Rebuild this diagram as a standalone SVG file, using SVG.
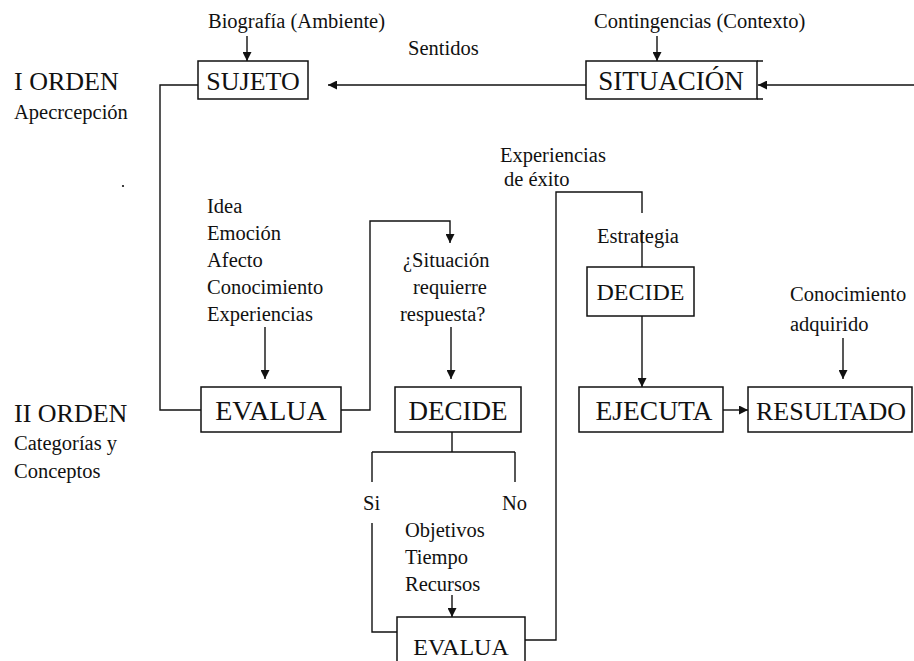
<svg xmlns="http://www.w3.org/2000/svg" width="914" height="661" viewBox="0 0 914 661">
<defs>
<marker id="ah" viewBox="0 0 10 10" refX="10" refY="5" markerWidth="9" markerHeight="9" markerUnits="userSpaceOnUse" orient="auto">
<path d="M0,0 L10,5 L0,10 z" fill="#111"/>
</marker>
<style>
.box{fill:#fff;stroke:#111;stroke-width:1.5}
.bt{font-family:"Liberation Serif","Times New Roman",serif;font-size:26px;fill:#111;text-anchor:middle}
.lb{font-family:"Liberation Serif","Times New Roman",serif;font-size:20.5px;fill:#111}
.big{font-family:"Liberation Serif","Times New Roman",serif;font-size:26px;fill:#111}
.ln{fill:none;stroke:#111;stroke-width:1.4}
.ar{fill:none;stroke:#111;stroke-width:1.4;marker-end:url(#ah)}
</style>
</defs>
<rect width="914" height="661" fill="#fff"/>

<g id="labels">
<text class="big" x="14" y="90">I ORDEN</text>
<text class="lb" x="14" y="119">Apecrcepción</text>
<text class="big" x="14" y="422">II ORDEN</text>
<text class="lb" x="14" y="450">Categorías y</text>
<text class="lb" x="14" y="478">Conceptos</text>
<circle cx="123" cy="186" r="1.1" fill="#111"/>
<text class="lb" x="208" y="28">Biografía (Ambiente)</text>
<text class="lb" x="594" y="28">Contingencias (Contexto)</text>
<text class="lb" x="408" y="55">Sentidos</text>
<text class="lb" x="207" y="213">Idea</text>
<text class="lb" x="207" y="240">Emoción</text>
<text class="lb" x="207" y="267">Afecto</text>
<text class="lb" x="207" y="294">Conocimiento</text>
<text class="lb" x="207" y="321">Experiencias</text>
<text class="lb" x="403" y="267">¿Situación</text>
<text class="lb" x="413" y="294">requierre</text>
<text class="lb" x="400" y="321">respuesta?</text>
<text class="lb" x="500" y="162">Experiencias</text>
<text class="lb" x="504" y="186">de éxito</text>
<text class="lb" x="597" y="243">Estrategia</text>
<text class="lb" x="790" y="301">Conocimiento</text>
<text class="lb" x="790" y="331">adquirido</text>
<text class="lb" x="363" y="510">Si</text>
<text class="lb" x="502" y="510">No</text>
<text class="lb" x="405" y="537">Objetivos</text>
<text class="lb" x="405" y="564">Tiempo</text>
<text class="lb" x="405" y="591">Recursos</text>
</g>

<g id="connectors">
<line class="ar" x1="247" y1="36" x2="247" y2="61"/>
<line class="ar" x1="657" y1="36" x2="657" y2="61"/>
<line class="ar" x1="586" y1="85" x2="328" y2="85"/>
<line class="ar" x1="914" y1="85" x2="758" y2="85"/>
<path class="ln" d="M198,85 H160 V410 H201"/>
<line class="ar" x1="265" y1="327" x2="265" y2="379"/>
<path class="ar" d="M340,410 H370 V221 H450 V243"/>
<line class="ar" x1="451" y1="327" x2="451" y2="379"/>
<path class="ln" d="M452,432 V452 M372,452 H515 M372,452 V482 M515,452 V482"/>
<path class="ln" d="M372,523 V632 H397"/>
<line class="ar" x1="452" y1="595" x2="452" y2="617"/>
<path class="ln" d="M525,640 H556 V192 H642 V213"/>
<line class="ln" x1="642" y1="230" x2="642" y2="267"/>
<line class="ar" x1="642" y1="316" x2="642" y2="387"/>
<line class="ar" x1="723" y1="410" x2="748" y2="410"/>
<line class="ar" x1="843" y1="338" x2="843" y2="379"/>
</g>

<g id="sujeto">
<rect class="box" x="198" y="61" width="110" height="38"/>
<text class="bt" x="253" y="90">SUJETO</text>
</g>
<g id="situacion">
<rect class="box" x="586" y="61" width="171" height="38"/>
<path class="ln" d="M757,61 H763 M757,99 H763"/>
<text class="bt" x="671" y="90" style="font-size:27px">SITUACIÓN</text>
</g>
<g id="evalua1">
<rect class="box" x="201" y="387" width="140" height="45"/>
<text class="bt" x="271" y="420" style="font-size:28px">EVALUA</text>
</g>
<g id="decide1">
<rect class="box" x="395" y="387" width="126" height="45"/>
<text class="bt" x="458" y="420" style="font-size:27px">DECIDE</text>
</g>
<g id="decide2">
<rect class="box" x="587" y="267" width="107" height="49"/>
<text class="bt" x="640.5" y="300" style="font-size:24px">DECIDE</text>
</g>
<g id="ejecuta">
<rect class="box" x="579" y="387" width="144" height="45"/>
<text class="bt" x="654" y="420" style="font-size:27.5px">EJECUTA</text>
</g>
<g id="resultado">
<rect class="box" x="748" y="387" width="164" height="45"/>
<text class="bt" x="831" y="420">RESULTADO</text>
</g>
<g id="evalua2">
<rect class="box" x="397" y="617" width="128" height="52"/>
<text class="bt" x="461" y="655" style="font-size:24px">EVALUA</text>
</g>
</svg>
